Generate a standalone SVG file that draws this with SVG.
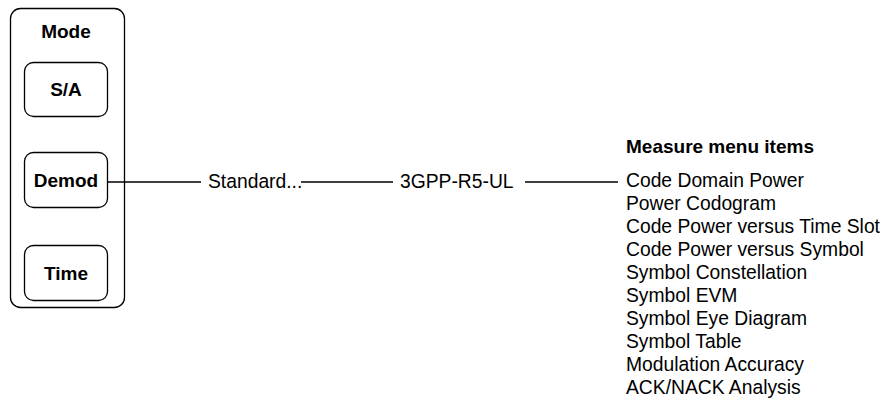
<svg xmlns="http://www.w3.org/2000/svg" width="894" height="409" viewBox="0 0 894 409">
<style>
.box{fill:#fff;stroke:#000;stroke-width:1.3}
.b{font-family:"Liberation Sans",Arial,sans-serif;font-weight:bold;font-size:19px;fill:#000}
.t{font-family:"Liberation Sans",Arial,sans-serif;font-size:19.3px;fill:#000}
.ln{stroke:#000;stroke-width:1.5;fill:none}
</style>
<rect width="894" height="409" fill="#fff"/>
<g id="mode">
<rect class="box" x="10.5" y="8.5" width="114" height="299" rx="10"/>
<text class="b" x="66" y="38" text-anchor="middle" font-size="21">Mode</text>
</g>
<g id="sa">
<rect class="box" x="24.5" y="62.5" width="83" height="54" rx="9"/>
<text class="b" x="66" y="96" text-anchor="middle">S/A</text>
</g>
<g id="demod">
<rect class="box" x="24.5" y="152.5" width="83" height="55" rx="9"/>
<text class="b" x="66" y="187" text-anchor="middle">Demod</text>
</g>
<g id="time">
<rect class="box" x="24.5" y="245.5" width="83" height="55" rx="9"/>
<text class="b" x="66" y="280" text-anchor="middle">Time</text>
</g>
<g id="standard">
<text class="t" x="208" y="188">Standard...</text>
</g>
<g id="gpp">
<text class="t" x="400" y="188">3GPP-R5-UL</text>
</g>
<g id="measure">
<text class="b" x="626" y="153" font-size="19.5">Measure menu items</text>
<text class="t" x="626" y="187">Code Domain Power</text>
<text class="t" x="626" y="210">Power Codogram</text>
<text class="t" x="626" y="233">Code Power versus Time Slot</text>
<text class="t" x="626" y="256">Code Power versus Symbol</text>
<text class="t" x="626" y="279">Symbol Constellation</text>
<text class="t" x="626" y="302">Symbol EVM</text>
<text class="t" x="626" y="325">Symbol Eye Diagram</text>
<text class="t" x="626" y="348">Symbol Table</text>
<text class="t" x="626" y="371">Modulation Accuracy</text>
<text class="t" x="626" y="394">ACK/NACK Analysis</text>
</g>
<g id="connectors">
<line class="ln" x1="107" y1="182" x2="201" y2="182"/>
<line class="ln" x1="301" y1="182" x2="393" y2="182"/>
<line class="ln" x1="525" y1="182" x2="618" y2="182"/>
</g>
</svg>
